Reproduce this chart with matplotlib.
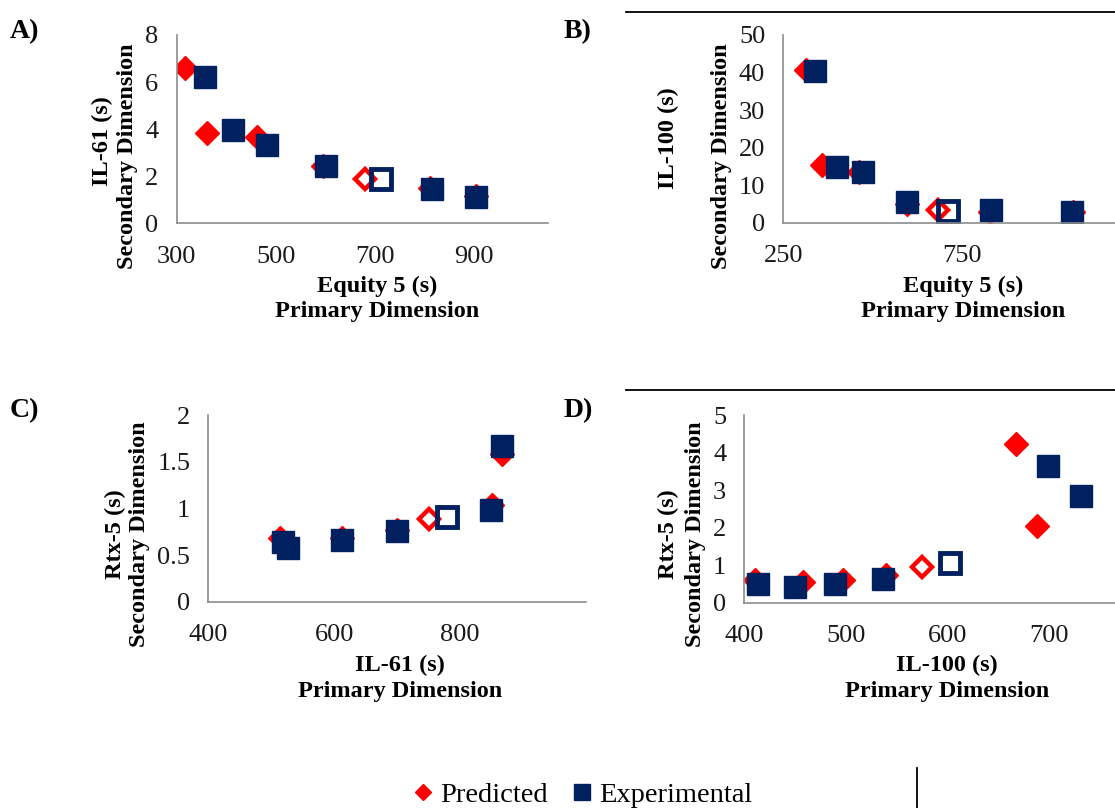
import matplotlib
matplotlib.use('Agg')
import matplotlib.pyplot as plt
from matplotlib.lines import Line2D

plt.rcParams['font.family'] = ['Liberation Serif', 'DejaVu Serif']

# A) Equity 5 vs IL-61
a_pred_x = [317, 361, 463, 595, 812, 905]
a_pred_y = [6.61, 3.85, 3.68, 2.45, 1.51, 1.17]
a_exp_x = [357, 414, 482, 601, 815, 905]
a_exp_y = [6.2, 3.96, 3.33, 2.45, 1.46, 1.13]
a_open_pred = (681, 1.88)
a_open_exp = (712, 1.88)

# B) Equity 5 vs IL-100
b_pred_x = [313, 359, 461, 598, 830, 1062]
b_pred_y = [40.7, 15.4, 13.6, 5.0, 2.9, 2.8]
b_exp_x = [339, 400, 474, 596, 832, 1058]
b_exp_y = [40.5, 14.8, 13.6, 5.6, 3.4, 2.9]
b_open_pred = (684, 3.4)
b_open_exp = (712, 3.1)

# C) IL-61 vs Rtx-5
c_pred_x = [514, 525, 613, 699, 850, 867]
c_pred_y = [0.68, 0.6, 0.68, 0.77, 1.04, 1.58]
c_exp_x = [519, 527, 613, 699, 849, 867]
c_exp_y = [0.64, 0.57, 0.66, 0.76, 0.98, 1.67]
c_open_pred = (751, 0.886)
c_open_exp = (779, 0.91)

# D) IL-100 vs Rtx-5
d_pred_x = [411, 458, 497, 540, 668, 688.5]
d_pred_y = [0.6, 0.56, 0.6, 0.73, 4.22, 2.05]
d_exp_x = [414, 450, 489, 537, 699, 732]
d_exp_y = [0.5, 0.41, 0.5, 0.62, 3.65, 2.84]
d_open_pred = (575, 0.94)
d_open_exp = (602.5, 1.07)

RED = '#FF0000'
NAVY = '#002060'
W, H = 1115, 808

fig = plt.figure(figsize=(W / 100, H / 100), dpi=100)


def px_axes(l, t, r, b):
    return fig.add_axes([l / W, 1 - b / H, (r - l) / W, (b - t) / H])


def ftext(x, y, s, **kw):
    fig.text(x / W, 1 - y / H, s, ha='center', va='center', **kw)


def panel(ax, px, py, ex, ey, op, oe, xlim, xticks, ylim, yticks, ytl=None):
    ax.plot(px, py, 'D', color=RED, ms=12, mec=RED, label='Predicted')
    ax.plot(ex, ey, 's', color=NAVY, ms=16.5, mec=NAVY, label='Experimental')
    ax.plot(op[0], op[1], 'D', mfc='none', mec=RED, mew=3.2, ms=10.5)
    ax.plot(oe[0], oe[1], 's', mfc='none', mec=NAVY, mew=3.5, ms=14.5)
    ax.set_xlim(*xlim)
    ax.set_ylim(*ylim)
    ax.set_xticks(xticks)
    ax.set_yticks(yticks)
    if ytl:
        ax.set_yticklabels(ytl)
    for s in ['top', 'right']:
        ax.spines[s].set_visible(False)
    for s in ['left', 'bottom']:
        ax.spines[s].set_color('#8c8c8c')
        ax.spines[s].set_linewidth(1.2)
    ax.tick_params(length=0, labelsize=19, colors='#1a1a1a')
    ax.tick_params(axis='x', pad=16)
    ax.tick_params(axis='y', pad=13)


axA = px_axes(176.5, 35, 548, 223.3)
panel(axA, a_pred_x, a_pred_y, a_exp_x, a_exp_y, a_open_pred, a_open_exp,
      (300, 1050), [300, 500, 700, 900], (0, 8), [0, 2, 4, 6, 8])

axB = px_axes(783.3, 35, 1140, 222.7)
panel(axB, b_pred_x, b_pred_y, b_exp_x, b_exp_y, b_open_pred, b_open_exp,
      (250, 1250), [250, 750], (0, 50), [0, 10, 20, 30, 40, 50])

axC = px_axes(208.3, 415, 586, 601.7)
panel(axC, c_pred_x, c_pred_y, c_exp_x, c_exp_y, c_open_pred, c_open_exp,
      (400, 1000), [400, 600, 800], (0, 2), [0, 0.5, 1, 1.5, 2],
      ['0', '0.5', '1', '1.5', '2'])

axD = px_axes(744.3, 415, 1150, 602.7)
panel(axD, d_pred_x, d_pred_y, d_exp_x, d_exp_y, d_open_pred, d_open_exp,
      (400, 800), [400, 500, 600, 700], (0, 5), [0, 1, 2, 3, 4, 5])

bold = dict(fontsize=17.5, fontweight='bold', color='black')
letter = dict(fontsize=20, fontweight='bold', color='black')

# panel letters
ftext(25, 32, 'A)', **letter)
ftext(578, 32, 'B)', **letter)
ftext(24, 411, 'C)', **letter)
ftext(578, 411, 'D)', **letter)

# axis titles
ftext(102, 141, 'IL-61 (s)', rotation=90, **bold)
ftext(127, 156, 'Secondary Dimension', rotation=90, **bold)
ftext(377, 286, 'Equity 5 (s)', **bold)
ftext(377, 312, 'Primary Dimension', **bold)

ftext(668, 138, 'IL-100 (s)', rotation=90, **bold)
ftext(722, 156, 'Secondary Dimension', rotation=90, **bold)
ftext(963, 286, 'Equity 5 (s)', **bold)
ftext(963, 312, 'Primary Dimension', **bold)

ftext(115, 534, 'Rtx-5 (s)', rotation=90, **bold)
ftext(140, 534, 'Secondary Dimension', rotation=90, **bold)
ftext(400, 665, 'IL-61 (s)', **bold)
ftext(400, 691, 'Primary Dimension', **bold)

ftext(668, 534, 'Rtx-5 (s)', rotation=90, **bold)
ftext(695, 534, 'Secondary Dimension', rotation=90, **bold)
ftext(947, 665, 'IL-100 (s)', **bold)
ftext(947, 691, 'Primary Dimension', **bold)

# separator lines
fig.add_artist(Line2D([626 / W, 1], [1 - 11.7 / H] * 2, color='black', lw=1.3))
fig.add_artist(Line2D([626 / W, 1], [1 - 390 / H] * 2, color='black', lw=1.3))
fig.add_artist(Line2D([916.6 / W] * 2, [1 - 768 / H, 0], color='black', lw=1.3))

handles, labels = axA.get_legend_handles_labels()
fig.legend(handles, labels, loc='center', bbox_to_anchor=(583 / W, 1 - 795 / H),
           ncol=2, frameon=False, fontsize=20.5, markerscale=0.7,
           handlelength=0.6, handletextpad=0.3, columnspacing=0.9)

fig.savefig('out.png', dpi=100)
